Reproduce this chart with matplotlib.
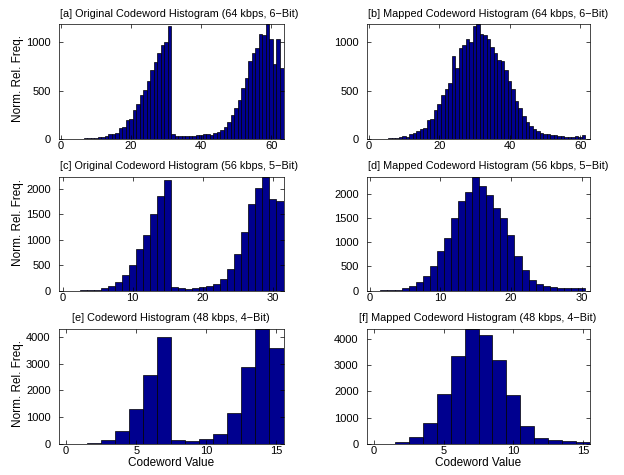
import matplotlib as mpl

mpl.use("Agg")

import matplotlib.pyplot as plt
import numpy as np

plt.rcParams["font.family"] = ["Liberation Sans", "DejaVu Sans"]
plt.rcParams["font.size"] = 7.8

# codeword counts (bins start at 0, width 1)
orig_64k = [2, 2, 2, 3, 4, 4, 5, 7, 7, 10, 14, 17, 24, 28, 48, 55,
            66, 110, 121, 197, 203, 300, 362, 455, 507, 603, 714, 800, 886, 972, 1003, 1165,
            48, 31, 34, 28, 28, 31, 34, 38, 41, 48, 48, 45, 59, 76, 93, 120,
            180, 248, 317, 403, 524, 628, 810, 893, 938, 1083, 1076, 1190, 1031, 776, 1034, 731]
mapped_64k = [3, 2, 2, 2, 3, 4, 6, 10, 12, 20, 30, 25, 48, 58, 83, 103,
              117, 195, 205, 300, 362, 455, 514, 583, 860, 731, 940, 972, 1031, 1003, 1165, 1190,
              1088, 1079, 1031, 955, 888, 815, 805, 712, 605, 522, 395, 317, 233, 179, 134, 103,
              83, 66, 49, 48, 41, 38, 31, 28, 24, 24, 24, 28, 24, 46]
orig_56k = [3, 3, 3, 5, 10, 20, 45, 90, 165, 305, 500, 810, 1090, 1510, 1850, 2170,
            70, 50, 40, 60, 80, 85, 140, 225, 430, 715, 1150, 1700, 2020, 2240, 1800, 1760]
mapped_56k = [2, 3, 5, 10, 20, 50, 100, 170, 310, 500, 810, 1090, 1490, 1840, 2030, 2350,
              2160, 1970, 1700, 1500, 1140, 710, 430, 230, 130, 90, 80, 65, 50, 50, 62]
orig_48k = [5, 10, 30, 150, 480, 1320, 2590, 4010, 140, 110, 190, 390, 1160, 2860, 4310, 3570]
mapped_48k = [5, 10, 70, 275, 815, 1915, 3340, 4380, 4120, 3200, 1875, 675, 245, 165, 110, 80]

titles = [
    "[a] Original Codeword Histogram (64 kbps, 6\u2212Bit)",
    "[b] Mapped Codeword Histogram (64 kbps, 6\u2212Bit)",
    "[c] Original Codeword Histogram (56 kbps, 5\u2212Bit)",
    "[d] Mapped Codeword Histogram (56 kbps, 5\u2212Bit)",
    "[e] Codeword Histogram (48 kbps, 4\u2212Bit)",
    "[f] Mapped Codeword Histogram (48 kbps, 4\u2212Bit)",
]
series = [orig_64k, mapped_64k, orig_56k, mapped_56k, orig_48k, mapped_48k]
xlims = [(-0.5, 63.5), (-0.5, 62.8), (-0.5, 31.5), (-0.4, 31.2), (-0.5, 15.5), (-0.5, 15.5)]
xticks = [[0, 20, 40, 60]] * 2 + [[0, 10, 20, 30]] * 2 + [[0, 5, 10, 15]] * 2
yticks = [[0, 500, 1000]] * 2 + [[0, 500, 1000, 1500, 2000]] * 2 + [[0, 1000, 2000, 3000, 4000]] * 2

W, H = 624, 475
cols = [(59, 283.5), (367, 590)]
rows = [(24, 139), (176.5, 290.7), (328.5, 444)]
ylab_y = [0.53, 0.6, 0.52]

fig = plt.figure(figsize=(W / 100, H / 100), dpi=100)

for i, vals in enumerate(series):
    r, c = divmod(i, 2)
    x0, x1 = cols[c]
    top, bot = rows[r]
    ax = fig.add_axes([x0 / W, 1 - bot / H, (x1 - x0) / W, (bot - top) / H])
    ax.bar(np.arange(len(vals)), vals, width=1.0, color="#00008F",
           edgecolor="black", linewidth=0.5)
    ax.set_xlim(*xlims[i])
    ax.set_ylim(0, max(vals))
    ax.set_xticks(xticks[i])
    ax.set_yticks(yticks[i])
    ax.tick_params(direction="in", top=True, right=True, length=3, width=0.5,
                   labelsize=8.0)
    ax.tick_params(axis="y", pad=6.0)
    ax.tick_params(axis="x", pad=1.5)
    for s in ax.spines.values():
        s.set_linewidth(0.5)
    if r < 2:
        ax.text(0.003, 1.065, titles[i], transform=ax.transAxes, ha="left",
                va="baseline")
    else:
        ax.text(0.5 if c == 0 else 0.496, 1.065, titles[i], transform=ax.transAxes,
                ha="center", va="baseline")
    if c == 0:
        ax.set_ylabel("Norm. Rel. Freq.", fontsize=8.5)
        ax.yaxis.set_label_coords(-0.155, ylab_y[r])
    if r == 2:
        ax.set_xlabel("Codeword Value", fontsize=8.5)
        ax.xaxis.set_label_coords(0.5, -0.11)
        ax.xaxis.label.set_va("top")

fig.savefig("out.png", dpi=100)
